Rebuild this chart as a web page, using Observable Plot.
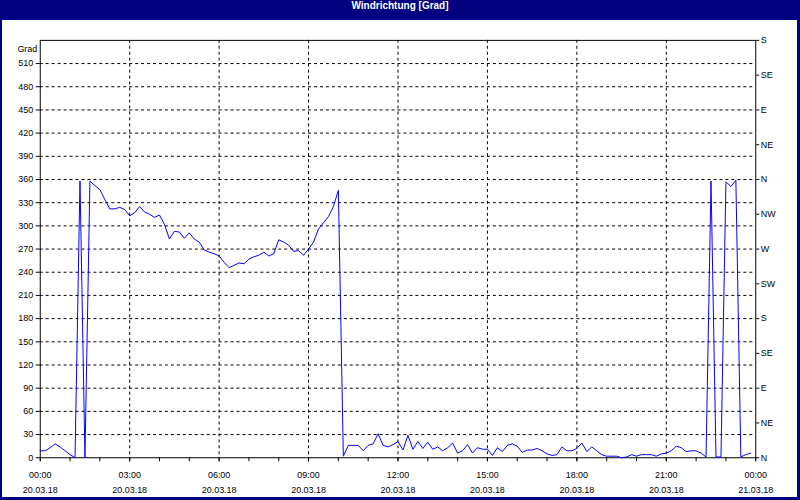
<!DOCTYPE html>
<html>
<head>
<meta charset="utf-8">
<script src="https://cdn.jsdelivr.net/npm/d3@7"></script>
<script src="https://cdn.jsdelivr.net/npm/@observablehq/plot@0.6"></script>
<style>
  html, body { margin: 0; padding: 0; background: #fff; }
  #frame { position: relative; width: 800px; height: 500px; background: #000080; overflow: hidden; }
  #title { height: 20px; line-height: 20px; text-align: center; color: #fff; font: bold 10px "Liberation Sans", sans-serif; }
  #inner { position: absolute; left: 2px; top: 20px; width: 795px; height: 477px; background: #fff; overflow: hidden; }
  #inner svg { display: block; margin-left: -2px; }
</style>
</head>
<body>
<div id="frame">
  <div id="title">Windrichtung [Grad]</div>
  <div id="inner"></div>
</div>
<script>
// Wind direction [deg], one reading every 10 minutes from 20.03.18 00:00
const startTime = new Date(2018, 2, 20, 0, 0);
const endTime = new Date(2018, 2, 21, 0, 0);
const stepMinutes = 10;
const windDirection = [
  9, 9, 13, 18, 14, 9, 4, 0, 358, 0, 358, 352,
  347, 334, 322, 322, 324, 321, 313, 317, 325, 318, 315, 311,
  314, 302, 283, 293, 292, 284, 291, 283, 279, 269, 266, 264,
  261, 253, 246, 249, 252, 251, 257, 260, 262, 266, 261, 264,
  282, 279, 275, 267, 268, 262, 270, 279, 296, 304, 312, 325,
  346, 2, 16, 16, 16, 9, 16, 18, 31, 16, 14, 17,
  21, 10, 29, 11, 21, 12, 20, 11, 14, 9, 13, 19,
  6, 9, 17, 6, 13, 11, 11, 3, 13, 8, 16, 18,
  15, 7, 10, 10, 12, 9, 5, 3, 4, 14, 9, 9,
  12, 19, 8, 14, 9, 4, 2, 2, 2, 0, 1, 4,
  2, 4, 4, 4, 2, 5, 6, 9, 15, 13, 8, 9,
  9, 6, 1, 358, 1, 1, 357, 351, 359, 1, 4, 6
];

// Axis labels
const leftTicks = [0, 30, 60, 90, 120, 150, 180, 210, 240, 270, 300, 330, 360, 390, 420, 450, 480, 510];
const gridY = [30, 60, 90, 120, 150, 180, 210, 240, 270, 300, 330, 360, 390, 420, 450, 480, 510];
const dirTicks = [0, 45, 90, 135, 180, 225, 270, 315, 360, 405, 450, 495, 540];
const dirLabels = ["N", "NE", "E", "SE", "S", "SW", "W", "NW", "N", "NE", "E", "SE", "S"];
const timeLabels = ["00:00", "03:00", "06:00", "09:00", "12:00", "15:00", "18:00", "21:00", "00:00"];
const dateLabels = ["20.03.18", "20.03.18", "20.03.18", "20.03.18", "20.03.18", "20.03.18", "20.03.18", "20.03.18", "21.03.18"];
const yUnit = "Grad";

const data = windDirection.map((v, i) => ({ time: d3.timeMinute.offset(startTime, stepMinutes * i), value: v }));
const stopPlus = d3.timeMinute.offset(endTime, 1);
const majorTicks = d3.timeHour.every(3).range(startTime, stopPlus);
const hourTicks = d3.timeHour.every(1).range(startTime, stopPlus);
const gridX = majorTicks.slice(1, -1);

const chart = Plot.plot({
  width: 800,
  height: 480,
  marginLeft: 40,
  marginRight: 40,
  marginTop: 20,
  marginBottom: 40,
  x: { type: "time", domain: [startTime, endTime] },
  y: { domain: [0, 540] },
  style: { fontFamily: "Liberation Sans, sans-serif", fontSize: "9px", color: "#000", background: "transparent" },
  marks: [
    Plot.ruleY(gridY, { stroke: "#000", strokeDasharray: "3,3", strokeWidth: 1 }),
    Plot.ruleX(gridX, { stroke: "#000", strokeDasharray: "3,3", strokeWidth: 1 }),
    Plot.frame({ stroke: "#000", strokeWidth: 1 }),
    Plot.axisY({ anchor: "left", ticks: leftTicks, tickSize: 4, tickPadding: 3, label: null, tickFormat: d => String(d) }),
    Plot.axisY({ anchor: "right", ticks: dirTicks, tickSize: 3, tickPadding: 2, label: null,
      tickFormat: d => dirLabels[dirTicks.indexOf(d)] }),
    Plot.axisX({ ticks: hourTicks, tickSize: 4, tickFormat: () => "", label: null }),
    Plot.axisX({ ticks: majorTicks, tickSize: 4, tickPadding: 6, label: null, lineHeight: 1.67,
      tickFormat: d => { const i = majorTicks.findIndex(t => +t === +d); return timeLabels[i] + "\n" + dateLabels[i]; } }),
    Plot.text([yUnit], { frameAnchor: "top-left", text: d => d, textAnchor: "end", dx: -3, dy: 5 }),
    Plot.line(data, { x: "time", y: "value", stroke: "#0000ff", strokeWidth: 1 })
  ]
});
document.getElementById("inner").appendChild(chart);
</script>
</body>
</html>
